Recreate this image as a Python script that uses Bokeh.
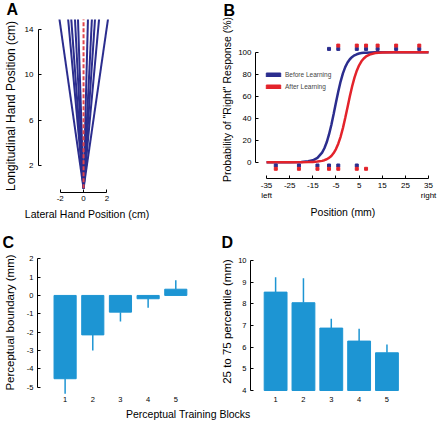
from bokeh.plotting import figure
from bokeh.models import Range1d, FixedTicker, Legend, LegendItem, Div
from bokeh.layouts import row, column
from bokeh.embed import file_html
from bokeh.resources import INLINE

FONT = "Liberation Sans"
NAVY = "#2b2d8e"
RED = "#e3232b"
BAR = "#1d95d3"
NAN = float("nan")

# ---------------- Panel A: reach trajectories ----------------
a_tip_x = [-2.08, -1.33, -1.06, -0.74, -0.48, 0.38, 0.72, 0.99, 1.34, 2.11]
a_tip_y = [15.0, 15.0, 15.0, 15.0, 15.0, 15.0, 15.0, 15.0, 15.0, 15.0]
a_start = (0.0, 0.0)
a_mid_x = [0.0, 0.0]
a_mid_y = [0.0, 15.0]
a_yticks = [2, 6, 10, 14]
a_ylabels = ["2", "6", "10", "14"]
a_xticks = [-2, 0, 2]
a_xlabels = ["-2", "0", "2"]

# ---------------- Panel B: psychometric functions ----------------
b_pos = [-35, -30, -25, -20, -17, -15, -13, -11, -10, -9,
         -8, -7, -6, -5, -4, -3, -2, -1, 0, 1,
         2, 3, 4, 5, 6, 7, 8, 10, 12, 15,
         20, 25, 30, 35]
b_before = [0.0, 0.0, 0.03, 0.2, 0.8, 1.7, 3.9, 8.7, 12.7, 18.1,
            25.2, 33.8, 43.8, 54.2, 64.3, 73.3, 80.7, 86.4, 90.6, 93.6,
            95.7, 97.2, 98.1, 98.8, 99.2, 99.5, 99.6, 99.8, 99.9, 100.0,
            100.0, 100.0, 100.0, 100.0]
b_after = [0.0, 0.0, 0.0, 0.03, 0.1, 0.25, 0.55, 1.2, 1.8, 2.7,
           3.9, 5.7, 8.3, 11.9, 16.8, 23.1, 31.0, 40.1, 50.0, 59.9,
           69.0, 76.9, 83.2, 88.1, 91.7, 94.3, 96.1, 98.2, 99.2, 99.75,
           99.97, 100.0, 100.0, 100.0]
b_before_right_x = [-8, -4, 4, 8, 13, 21, 31]
b_before_right_y = 103
b_before_left_x = [-31, -21, -13, -8, -4, 4]
b_before_left_y = -3
b_after_right_x = [-4, 4, 8, 13, 21, 31]
b_after_right_y = 106
b_after_left_x = [-31, -21, -13, -8, -4, 4, 8]
b_after_left_y = -6
b_xticks = [-35, -25, -15, -5, 5, 15, 25, 35]
b_xlabels = ["-35\nleft", "-25", "-15", "-5", "5", "15", "25", "35\nright"]
b_yticks = [0, 20, 40, 60, 80, 100]
b_ylabels = ["0", "20", "40", "60", "80", "100"]

# ---------------- Panels C and D: training blocks ----------------
blocks = [1, 2, 3, 4, 5]
block_labels = ["1", "2", "3", "4", "5"]
c_boundary = [-4.54, -2.15, -0.91, -0.18, 0.34]
c_err_end = [-5.36, -3.00, -1.42, -0.67, 0.83]
c_yticks = [-5, -4, -3, -2, -1, 0, 1, 2]
c_ylabels = ["-5", "-4", "-3", "-2", "-1", "0", "1", "2"]
d_iqr = [8.54, 8.05, 6.88, 6.28, 5.74]
d_err_end = [9.23, 9.18, 7.31, 6.85, 6.12]
d_base = 4
d_yticks = [4, 5, 6, 7, 8, 9, 10]
d_ylabels = ["4", "5", "6", "7", "8", "9", "10"]


def make_fig(letter, letter_offset, letter_valign, w, h, l, r, t, b, xr, yr):
    p = figure(width=w, height=h, x_range=Range1d(*xr), y_range=Range1d(*yr),
               min_border_left=l, min_border_right=r, min_border_top=t,
               min_border_bottom=b, output_backend="svg",
               toolbar_location=None, tools="", frame_align=False)
    p.grid.visible = False
    p.outline_line_color = None
    p.background_fill_color = "white"
    p.border_fill_color = "white"
    p.title.text = letter
    p.title.text_font = FONT
    p.title.text_font_size = "16px"
    p.title.text_font_style = "bold"
    p.title.text_color = "black"
    p.title.align = "left"
    p.title.vertical_align = letter_valign
    p.title.offset = letter_offset
    p.title.standoff = 0
    return p


def style_axis(ax, ticks, labels, fs, standoff, label, label_fs, label_standoff,
               bounds=None, show_line=True):
    ax.ticker = FixedTicker(ticks=ticks)
    ax.major_label_overrides = dict(zip(ticks, labels))
    ax.major_label_text_font = FONT
    ax.major_label_text_font_size = fs
    ax.major_label_text_color = "black"
    ax.major_label_standoff = standoff
    ax.minor_tick_line_color = None
    ax.axis_label = label
    ax.axis_label_text_font = FONT
    ax.axis_label_text_font_style = "normal"
    ax.axis_label_text_font_size = label_fs
    ax.axis_label_text_color = "black"
    ax.axis_label_standoff = label_standoff
    if bounds is not None:
        ax.bounds = bounds
    if show_line:
        ax.axis_line_color = "black"
        ax.axis_line_width = 1
        ax.major_tick_line_color = "black"
        ax.major_tick_in = 3
        ax.major_tick_out = 0
    else:
        ax.axis_line_color = None
        ax.major_tick_line_color = None
        ax.major_tick_in = 0
        ax.major_tick_out = 0


LW = 218
RW = 220
TH = 222
BH = 186

# ---- A ----
pA = make_fig("A", -32, "top", LW, TH, 31, 83, 19, 30,
              (-3.864, 4.456), (-0.368, 14.877))
pA.segment(x0=a_start[0], y0=a_start[1], x1=a_tip_x, y1=a_tip_y,
           line_color=NAVY, line_width=2)
pA.line(a_mid_x, a_mid_y, line_color="#e0444b", line_width=2, line_dash="4 2")
style_axis(pA.yaxis[0], a_yticks, a_ylabels, "8px", 5,
           "Longitudinal Hand Position (cm)", "12px", 4, bounds=(2, 14))
style_axis(pA.xaxis[0], a_xticks, a_xlabels, "8px", 3,
           "Lateral Hand Position (cm)", "10.5px", 4, bounds=(-2, 2))

# ---- B ----
pB = make_fig("B", -32, "top", RW, TH, 33, 8, 20, 44,
              (-39.77, 35.85), (-14.82, 128.82))
pB.line(b_pos, b_before, line_color=NAVY, line_width=2.5)
pB.line(b_pos, b_after, line_color=RED, line_width=2.5)
pB.scatter(b_before_right_x, b_before_right_y, marker="square", size=3,
           color=NAVY)
pB.scatter(b_before_left_x, b_before_left_y, marker="square", size=3,
           color=NAVY)
pB.scatter(b_after_right_x, b_after_right_y, marker="square", size=3,
           color=RED)
pB.scatter(b_after_left_x, b_after_left_y, marker="square", size=3,
           color=RED)
sw1 = pB.quad(left=[NAN], right=[NAN], top=[NAN], bottom=[NAN],
              fill_color=NAVY, line_color=NAVY)
sw2 = pB.quad(left=[NAN], right=[NAN], top=[NAN], bottom=[NAN],
              fill_color=RED, line_color=RED)
leg = Legend(items=[LegendItem(label="Before Learning", renderers=[sw1]),
                    LegendItem(label="After Learning", renderers=[sw2])],
             location=(9, 87), glyph_width=18, glyph_height=5,
             label_height=9, label_standoff=3, spacing=3, padding=0, margin=0,
             border_line_color=None, background_fill_alpha=0,
             label_text_font=FONT, label_text_font_size="6.5px")
pB.add_layout(leg)
style_axis(pB.yaxis[0], b_yticks, b_ylabels, "8px", 4,
           'Probability of "Right" Response (%)', "10.5px", 2, bounds=(0, 100))
style_axis(pB.xaxis[0], b_xticks, b_xlabels, "8px", 2,
           "Position (mm)", "10.5px", 3, bounds=(-35, 35))

# ---- C ----
pC = make_fig("C", -35, "bottom", LW, BH, 33, 18, 28, 14,
              (0.002, 5.893), (-5.40, 2.45))
pC.vbar(x=blocks, top=c_boundary, bottom=0, width=0.8, fill_color=BAR,
        line_color=BAR)
pC.segment(x0=blocks, y0=c_boundary, x1=blocks, y1=c_err_end,
           line_color=BAR, line_width=1.5)
style_axis(pC.yaxis[0], c_yticks, c_ylabels, "7.5px", 4,
           "Perceptual boundary (mm)", "11.5px", 8, bounds=(-5, 2))
style_axis(pC.xaxis[0], blocks, block_labels, "7.5px", 2, "", "10.5px", 0,
           show_line=False)

# ---- D ----
pD = make_fig("D", -29, "bottom", RW, BH, 28, 20, 28, 16,
              (0.098, 6.133), (3.908, 10.46))
pD.vbar(x=blocks, top=d_iqr, bottom=d_base, width=0.82, fill_color=BAR,
        line_color=BAR)
pD.segment(x0=blocks, y0=d_iqr, x1=blocks, y1=d_err_end,
           line_color=BAR, line_width=1.5)
style_axis(pD.yaxis[0], d_yticks, d_ylabels, "7.5px", 4,
           "25 to 75 percentile (mm)", "11.5px", 2, bounds=(4, 10))
style_axis(pD.xaxis[0], blocks, block_labels, "7.5px", 4, "", "10.5px", 0,
           show_line=False)

div = Div(text="Perceptual Training Blocks", width=300, height=13,
          margin=(0, 0, 0, 126),
          styles={"font-family": "'Liberation Sans', Arial, sans-serif",
                  "font-size": "10.5px", "line-height": "13px",
                  "color": "black"})

layout = column(row(pA, pB, spacing=0), row(pC, pD, spacing=0), div,
                spacing=0)

open("out.html", "w").write(file_html(layout, INLINE, "Figure"))
